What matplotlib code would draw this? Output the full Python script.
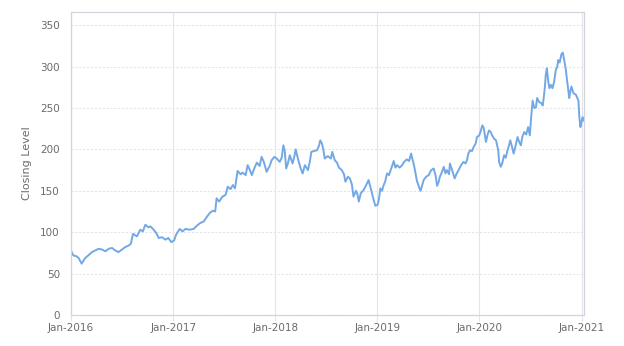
import numpy as np
import pandas as pd
import matplotlib
matplotlib.use("Agg")
import matplotlib.pyplot as plt
import matplotlib.dates as mdates

# closing level (approximate)
dates_2016 = ["2016-01-01", "2016-01-09", "2016-01-20", "2016-01-28", "2016-02-08", "2016-02-21",
              "2016-03-03", "2016-03-16", "2016-03-28", "2016-04-09", "2016-04-22", "2016-05-03",
              "2016-05-15", "2016-05-27", "2016-06-07", "2016-06-19", "2016-07-01", "2016-07-13",
              "2016-07-26", "2016-08-02", "2016-08-10", "2016-08-24", "2016-09-05", "2016-09-14",
              "2016-09-23", "2016-10-04", "2016-10-11", "2016-10-23", "2016-11-01", "2016-11-10",
              "2016-11-21", "2016-12-04", "2016-12-14", "2016-12-25"]
close_2016 = [78, 72, 71, 69, 62, 69, 72, 76, 78, 80, 79, 77, 80, 81, 78, 76, 79, 82,
              84, 86, 98, 95, 103, 101, 109, 106, 107, 103, 99, 93, 94, 91, 93, 88]

dates_2017 = ["2017-01-04", "2017-01-11", "2017-01-24", "2017-02-03", "2017-02-14", "2017-02-28",
              "2017-03-15", "2017-03-27", "2017-04-07", "2017-04-20", "2017-04-30", "2017-05-11",
              "2017-05-22", "2017-05-31", "2017-06-05", "2017-06-14", "2017-06-26", "2017-07-07",
              "2017-07-15", "2017-07-25", "2017-08-02", "2017-08-10", "2017-08-19", "2017-08-30",
              "2017-09-06", "2017-09-17", "2017-09-24", "2017-10-01", "2017-10-09", "2017-10-19",
              "2017-10-27", "2017-11-06", "2017-11-13", "2017-11-21", "2017-12-01", "2017-12-12",
              "2017-12-19", "2017-12-29"]
close_2017 = [90, 97, 104, 101, 104, 103, 104, 108, 111, 113, 118, 123, 126, 125, 141, 137,
              143, 145, 155, 152, 157, 153, 174, 170, 172, 169, 181, 176, 169, 178, 184, 180,
              191, 185, 173, 180, 187, 191]

dates_2018 = ["2018-01-06", "2018-01-17", "2018-01-24", "2018-01-30", "2018-02-04", "2018-02-09",
              "2018-02-15", "2018-02-22", "2018-03-04", "2018-03-10", "2018-03-15", "2018-03-21",
              "2018-03-26", "2018-04-02", "2018-04-09", "2018-04-17", "2018-04-28", "2018-05-05",
              "2018-05-10", "2018-05-19", "2018-05-30", "2018-06-06", "2018-06-11", "2018-06-17",
              "2018-06-22", "2018-06-27", "2018-07-08", "2018-07-19", "2018-07-24", "2018-08-02",
              "2018-08-10", "2018-08-17", "2018-08-27", "2018-09-04", "2018-09-09", "2018-09-18",
              "2018-09-25", "2018-10-02", "2018-10-08", "2018-10-17", "2018-10-22", "2018-10-27",
              "2018-11-03", "2018-11-13", "2018-11-21", "2018-12-01", "2018-12-07", "2018-12-13",
              "2018-12-20", "2018-12-25"]
close_2018 = [189, 185, 190, 205, 198, 177, 183, 193, 183, 191, 200, 192, 185, 177, 171, 181,
              175, 186, 197, 198, 199, 204, 211, 207, 200, 189, 192, 189, 197, 187, 184, 178,
              175, 170, 161, 167, 165, 158, 143, 150, 146, 137, 147, 151, 156, 163, 155, 147,
              138, 132]

dates_2019 = ["2019-01-02", "2019-01-07", "2019-01-12", "2019-01-18", "2019-01-24", "2019-01-30",
              "2019-02-05", "2019-02-12", "2019-02-19", "2019-03-01", "2019-03-07", "2019-03-13",
              "2019-03-22", "2019-03-31", "2019-04-07", "2019-04-17", "2019-04-25", "2019-05-02",
              "2019-05-07", "2019-05-13", "2019-05-18", "2019-05-23", "2019-05-31", "2019-06-05",
              "2019-06-10", "2019-06-16", "2019-06-25", "2019-07-04", "2019-07-13", "2019-07-22",
              "2019-07-29", "2019-08-03", "2019-08-08", "2019-08-13", "2019-08-21", "2019-08-27",
              "2019-09-02", "2019-09-07", "2019-09-15", "2019-09-18", "2019-09-25", "2019-10-05",
              "2019-10-11", "2019-10-19", "2019-10-28", "2019-11-06", "2019-11-13", "2019-11-18",
              "2019-11-23", "2019-11-29", "2019-12-06", "2019-12-12", "2019-12-19", "2019-12-24"]
close_2019 = [133, 140, 153, 150, 157, 162, 171, 169, 176, 186, 178, 181, 178, 181, 185, 188,
              186, 195, 188, 180, 171, 162, 154, 150, 156, 163, 167, 169, 175, 177, 168, 156,
              160, 167, 173, 179, 171, 175, 170, 183, 176, 165, 170, 175, 181, 185, 183, 187,
              195, 199, 198, 203, 207, 215]

dates_2020 = ["2020-01-01", "2020-01-06", "2020-01-12", "2020-01-17", "2020-01-25", "2020-01-31",
              "2020-02-05", "2020-02-11", "2020-02-16", "2020-02-23", "2020-03-01", "2020-03-05",
              "2020-03-09", "2020-03-12", "2020-03-18", "2020-03-23", "2020-03-30", "2020-04-05",
              "2020-04-11", "2020-04-15", "2020-04-21", "2020-04-26", "2020-05-03", "2020-05-09",
              "2020-05-17", "2020-05-23", "2020-05-29", "2020-06-03", "2020-06-10", "2020-06-17",
              "2020-06-24", "2020-06-30", "2020-07-05", "2020-07-10", "2020-07-16", "2020-07-22",
              "2020-07-26", "2020-08-03", "2020-08-10", "2020-08-15", "2020-08-19", "2020-08-23",
              "2020-08-26", "2020-08-30", "2020-09-04", "2020-09-08", "2020-09-13", "2020-09-19",
              "2020-09-25", "2020-10-01", "2020-10-06", "2020-10-10", "2020-10-15", "2020-10-21",
              "2020-10-26", "2020-10-31", "2020-11-06", "2020-11-10", "2020-11-15", "2020-11-18",
              "2020-11-22", "2020-11-26", "2020-12-03", "2020-12-12", "2020-12-17", "2020-12-21",
              "2020-12-24", "2020-12-28", "2020-12-31", "2021-01-05", "2021-01-09"]
close_2020 = [217, 222, 229, 226, 209, 218, 223, 221, 217, 213, 211, 205, 199, 185, 179, 183,
              193, 190, 199, 203, 211, 205, 195, 203, 215, 209, 205, 215, 221, 218, 227, 217,
              240, 259, 250, 251, 262, 257, 256, 253, 263, 276, 290, 298, 282, 274, 278, 274,
              282, 296, 300, 308, 305, 315, 317, 308, 296, 284, 271, 262, 270, 276, 268, 266,
              262, 259, 240, 227, 232, 239, 235]

df = pd.DataFrame({
    "date": pd.to_datetime(dates_2016 + dates_2017 + dates_2018 + dates_2019 + dates_2020),
    "close": close_2016 + close_2017 + close_2018 + close_2019 + close_2020,
})

line_col = "#72a8e6"
grid_col = "#e4e4ea"
text_col = "#6b6b6b"

fig = plt.figure(figsize=(6.24, 3.46), dpi=100)
ax = fig.add_axes([0.1138, 0.0896, 0.8226, 0.8757])

ax.plot(df["date"], df["close"], color=line_col, lw=1.4, solid_joinstyle="round")

ax.set_xlim(pd.Timestamp("2016-01-01"), pd.Timestamp("2021-01-11"))
ax.set_ylim(0, 366)
ax.set_yticks(np.arange(0, 351, 50))
ax.xaxis.set_major_locator(mdates.YearLocator())
ax.xaxis.set_major_formatter(mdates.DateFormatter("%b-%Y"))

# gridlines: dashed horizontal, solid vertical
ax.grid(axis="y", color=grid_col, lw=0.8, ls=(0, (2, 1.5)))
ax.grid(axis="x", color=grid_col, lw=0.8, ls="-")
ax.set_axisbelow(True)

for s in ax.spines.values():
    s.set_color("#d4d4dc")
    s.set_linewidth(0.9)

ax.tick_params(axis="x", length=4, color=grid_col, labelsize=7.5, labelcolor=text_col, pad=2)
ax.tick_params(axis="y", length=0, labelsize=7.5, labelcolor=text_col, pad=8)
ax.set_ylabel("Closing Level", fontsize=8, color=text_col, labelpad=6)

fig.savefig("out.png", dpi=100)
